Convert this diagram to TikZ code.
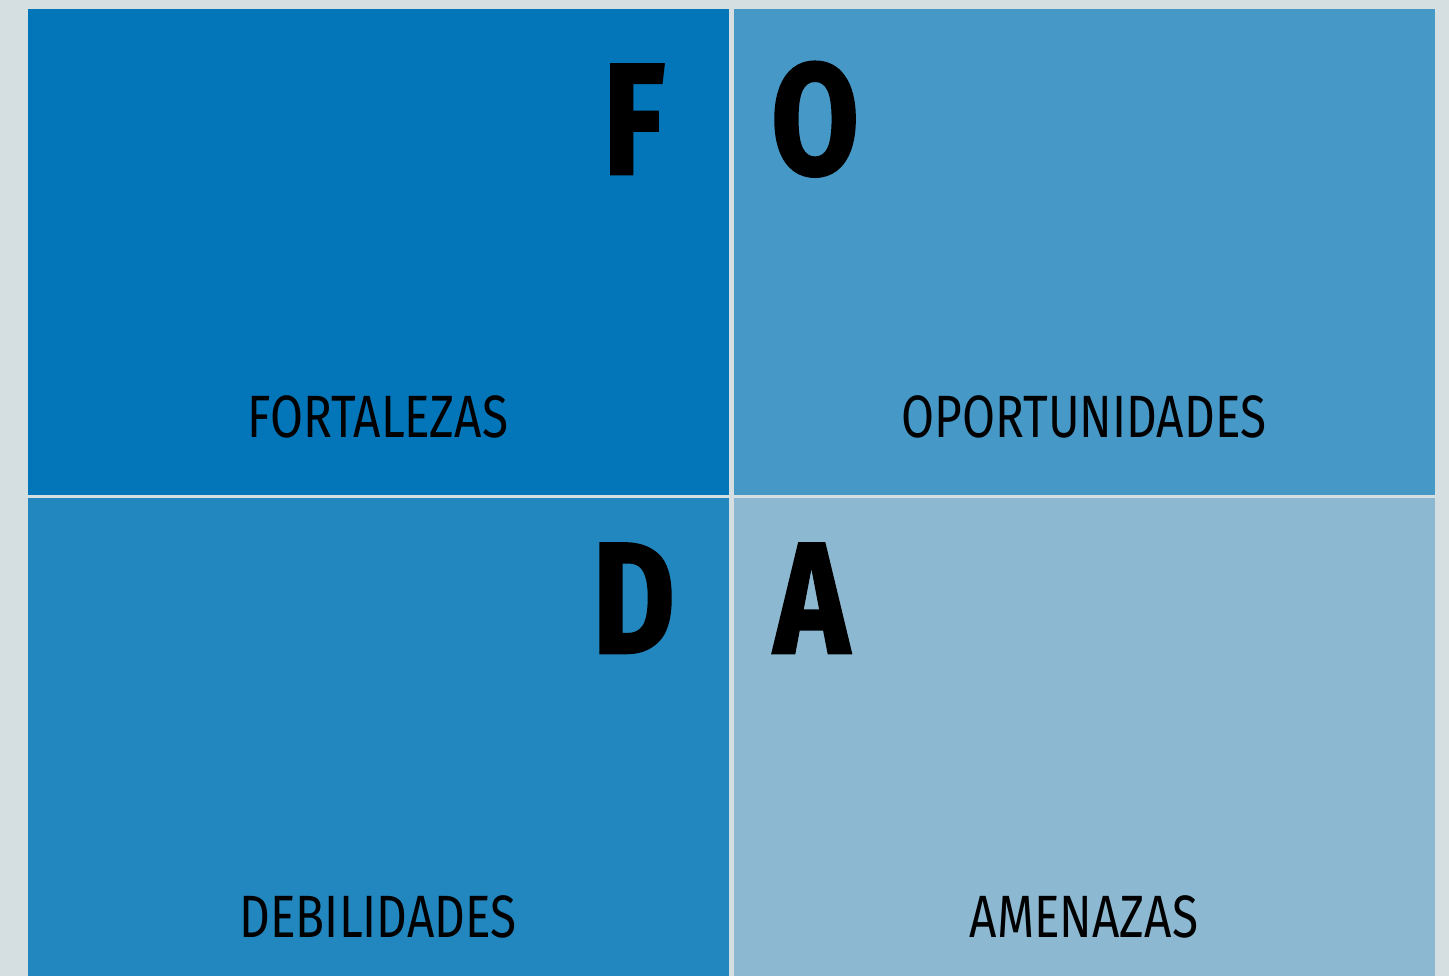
\documentclass[tikz,border=0pt]{standalone}
\usepackage{fontspec}
\setmainfont{Fira Sans}[FakeStretch=0.8]
\newfontfamily\heavyfont{Fira Sans}[FakeStretch=0.8, BoldFeatures={FakeBold=1.6}]
\usetikzlibrary{positioning}

\definecolor{fodabg}{RGB}{213,222,224}
\definecolor{fodaF}{RGB}{2,118,185}
\definecolor{fodaO}{RGB}{70,152,199}
\definecolor{fodaD}{RGB}{34,135,191}
\definecolor{fodaA}{RGB}{140,185,209}

\begin{document}
\begin{tikzpicture}[
    x=0.02cm, y=-0.02cm,
    quadrant/.style={rectangle, inner sep=0pt, outer sep=0pt, minimum width=14.02cm, minimum height=9.72cm},
    bigletter/.style={inner sep=0pt, font=\heavyfont\fontsize{90}{90}\selectfont\bfseries},
    quadtitle/.style={inner sep=0pt, font=\fontsize{34}{34}\selectfont}
]
    \fill[fodabg] (0,0) rectangle (1449,976);
    \useasboundingbox (0,0) rectangle (1449,976);

    \node[quadrant, fill=fodaF, anchor=north west] (fort) at (28,9) {};
    \node[quadrant, fill=fodaO, right=0.1cm of fort] (opor) {};
    \node[quadrant, fill=fodaD, below=0.06cm of fort, minimum height=9.56cm] (debi) {};
    \node[quadrant, fill=fodaA, right=0.1cm of debi, minimum height=9.56cm] (amen) {};

    \node[bigletter, anchor=base east] (letF) at (665,174) {F};
    \node[bigletter, anchor=base west] (letO) at (771,174) {O};
    \node[bigletter, anchor=base east] (letD) at (675,653) {D};
    \node[bigletter, anchor=base west] (letA) at (774,653) {A};

    \node[quadtitle, anchor=base] (tfort) at (378,437) {FORTALEZAS};
    \node[quadtitle, anchor=base] (topor) at (1084,437) {OPORTUNIDADES};
    \node[quadtitle, anchor=base] (tdebi) at (378,937) {DEBILIDADES};
    \node[quadtitle, anchor=base] (tamen) at (1084,937) {AMENAZAS};
\end{tikzpicture}
\end{document}
